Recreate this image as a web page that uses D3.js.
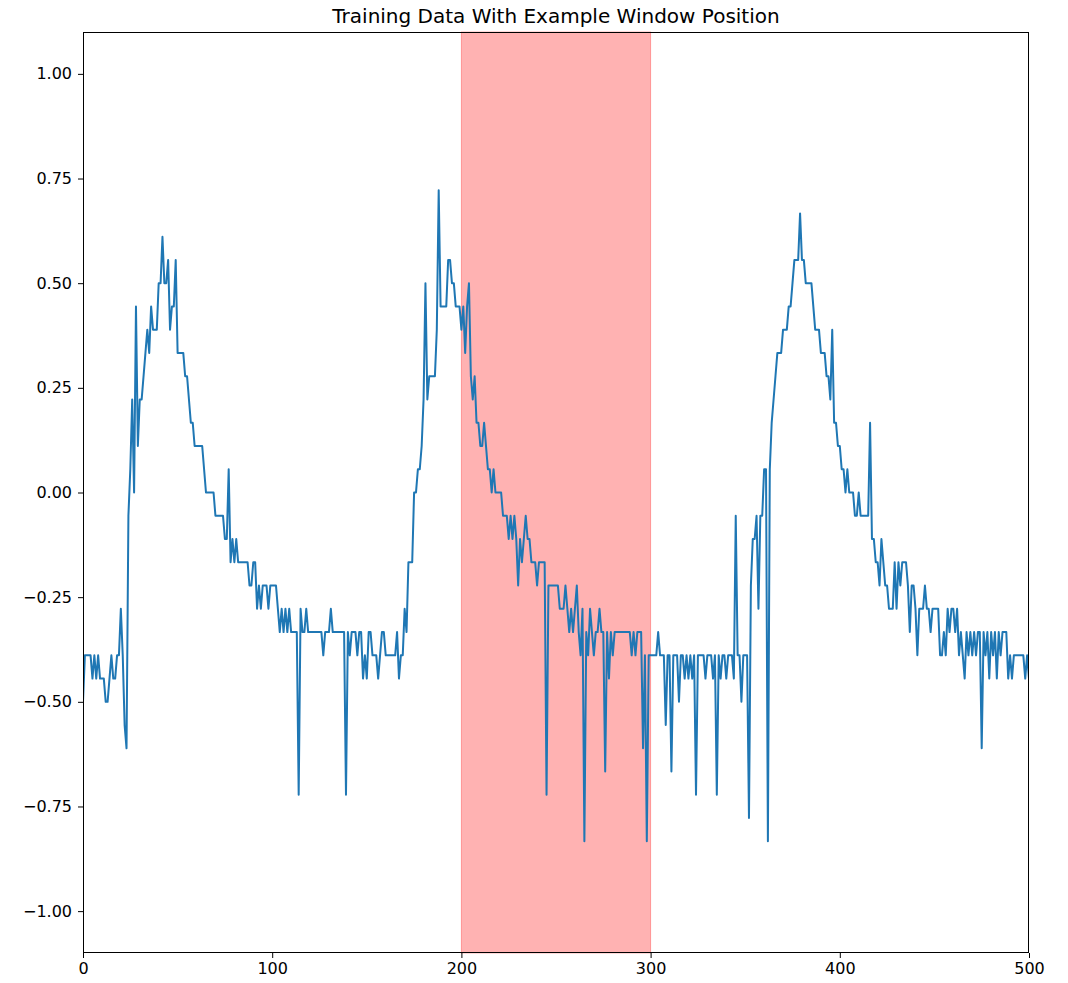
<!DOCTYPE html>
<html>
<head>
<meta charset="utf-8">
<script src="https://cdn.jsdelivr.net/npm/d3@7"></script>
<style>
  body { margin: 0; background: #fff; }
  svg text { font-family: "DejaVu Sans", sans-serif; fill: #000; }
</style>
</head>
<body>
<div id="chart"></div>
<script>
const title = 'Training Data With Example Window Position';
const windowRange = [200, 300];
const xTicks = [0, 100, 200, 300, 400, 500];
const yTicks = [-1.0, -0.75, -0.5, -0.25, 0, 0.25, 0.5, 0.75, 1.0];

// the series sits on a grid of 1/18, so values are kept as whole steps
const stepSize = 1 / 18;
const steps = [
  -9, -7, -7, -7, -7, -8, -7, -8, -7, -8, -8, -8, -9, -9, -8, -7, -8, -8, -7, -7,
  -5, -7, -10, -11, -1, 1, 4, 0, 8, 2, 4, 4, 5, 6, 7, 6, 8, 7, 7, 7,
  9, 9, 11, 9, 9, 10, 7, 8, 8, 10, 6, 6, 6, 6, 5, 5, 4, 3, 3, 2,
  2, 2, 2, 2, 1, 0, 0, 0, 0, 0, -1, -1, -1, -1, -1, -2, -2, 1, -3, -2,
  -3, -2, -3, -3, -3, -3, -3, -3, -4, -4, -3, -3, -5, -4, -5, -4, -4, -4, -5, -4,
  -4, -4, -4, -5, -6, -5, -6, -5, -6, -5, -6, -6, -6, -6, -13, -5, -6, -6, -5, -6,
  -6, -6, -6, -6, -6, -6, -6, -7, -6, -6, -6, -5, -6, -6, -6, -6, -6, -6, -6, -13,
  -6, -7, -6, -6, -6, -7, -6, -6, -8, -7, -8, -6, -6, -7, -7, -7, -8, -7, -6, -6,
  -7, -7, -7, -7, -7, -7, -6, -8, -7, -7, -5, -6, -3, -3, -3, 0, 0, 1, 1, 2,
  4, 9, 4, 5, 5, 5, 5, 7, 13, 8, 8, 8, 8, 10, 10, 9, 9, 8, 8, 8,
  7, 8, 6, 8, 9, 5, 4, 5, 3, 3, 2, 2, 3, 2, 1, 1, 0, 1, 0, 0,
  0, 0, -1, -1, -1, -2, -1, -2, -1, -2, -4, -2, -3, -2, -1, -2, -2, -3, -3, -3,
  -4, -3, -3, -3, -3, -13, -4, -4, -4, -4, -4, -4, -5, -5, -5, -4, -5, -6, -5, -6,
  -5, -4, -6, -7, -5, -15, -6, -7, -5, -6, -7, -6, -6, -5, -6, -6, -12, -6, -8, -6,
  -7, -6, -6, -6, -6, -6, -6, -6, -6, -6, -7, -6, -7, -6, -6, -6, -11, -7, -15, -7,
  -7, -7, -7, -7, -6, -7, -7, -7, -10, -7, -7, -12, -7, -7, -7, -9, -7, -7, -8, -7,
  -8, -7, -8, -7, -13, -7, -7, -7, -7, -8, -7, -7, -7, -8, -7, -13, -7, -8, -7, -7,
  -8, -7, -7, -7, -8, -1, -7, -7, -9, -7, -7, -7, -14, -4, -2, -2, -1, -5, -1, -1,
  1, 1, -15, 1, 3, 4, 5, 6, 6, 6, 7, 7, 7, 8, 8, 9, 10, 10, 10, 12,
  10, 10, 9, 9, 9, 9, 8, 7, 7, 7, 6, 6, 6, 5, 5, 4, 7, 3, 3, 2,
  2, 1, 1, 0, 1, 0, 0, 0, -1, -1, 0, -1, -1, -1, -1, -1, 3, -2, -2, -3,
  -3, -4, -2, -3, -4, -4, -5, -5, -5, -3, -5, -3, -4, -3, -3, -3, -4, -6, -4, -4,
  -5, -7, -5, -5, -5, -4, -5, -5, -6, -5, -5, -5, -5, -7, -7, -6, -7, -5, -6, -5,
  -5, -6, -5, -7, -6, -7, -8, -6, -7, -6, -7, -6, -7, -6, -6, -11, -6, -7, -6, -8,
  -6, -7, -6, -8, -6, -7, -6, -6, -6, -8, -7, -8, -7, -7, -7, -7, -7, -7, -8, -7,
  -8
];

const data = steps.map((s, i) => ({ x: i, y: s * stepSize }));

const margin = { top: 32, right: 39, bottom: 30, left: 83 };
const width = 1068 - margin.left - margin.right;
const height = 983 - margin.top - margin.bottom;

const svg = d3.select('#chart')
  .append('svg')
  .attr('width', 1068)
  .attr('height', 983);

const g = svg.append('g')
  .attr('transform', `translate(${margin.left},${margin.top})`);

const x = d3.scaleLinear().domain([0, 500]).range([0, width]);
const y = d3.scaleLinear().domain([-1.1, 1.1]).range([height, 0]);

g.append('defs').append('clipPath')
  .attr('id', 'plot-clip')
  .append('rect')
  .attr('width', width)
  .attr('height', height);

// example window
g.append('rect')
  .attr('x', x(windowRange[0]))
  .attr('y', 0)
  .attr('width', x(windowRange[1]) - x(windowRange[0]))
  .attr('height', height)
  .attr('fill', 'red')
  .attr('fill-opacity', 0.3)
  .attr('stroke', 'red')
  .attr('stroke-opacity', 0.3)
  .attr('stroke-width', 1);

const line = d3.line()
  .x(d => x(d.x))
  .y(d => y(d.y));

g.append('path')
  .datum(data)
  .attr('clip-path', 'url(#plot-clip)')
  .attr('fill', 'none')
  .attr('stroke', '#1f77b4')
  .attr('stroke-width', 2)
  .attr('stroke-linejoin', 'round')
  .attr('d', line);

// axes
const xAxis = g.append('g')
  .attr('transform', `translate(0,${height})`)
  .call(d3.axisBottom(x).tickValues(xTicks).tickFormat(d3.format('d')).tickSize(5).tickPadding(5));

const yAxis = g.append('g')
  .call(d3.axisLeft(y).tickValues(yTicks).tickFormat(d3.format('.2f')).tickSize(5).tickPadding(6));

[xAxis, yAxis].forEach(a => {
  a.select('.domain').remove();
  a.selectAll('.tick line').attr('stroke', '#000').attr('stroke-width', 1);
  a.selectAll('.tick text').style('font-size', '16px').attr('fill', '#000');
});

// frame
g.append('rect')
  .attr('x', 0.5)
  .attr('y', 0.5)
  .attr('width', width - 1)
  .attr('height', height - 1)
  .attr('fill', 'none')
  .attr('stroke', '#000')
  .attr('stroke-width', 1);

// title
svg.append('text')
  .attr('x', margin.left + width / 2)
  .attr('y', 23)
  .attr('text-anchor', 'middle')
  .style('font-size', '20px')
  .text(title);
</script>
</body>
</html>
